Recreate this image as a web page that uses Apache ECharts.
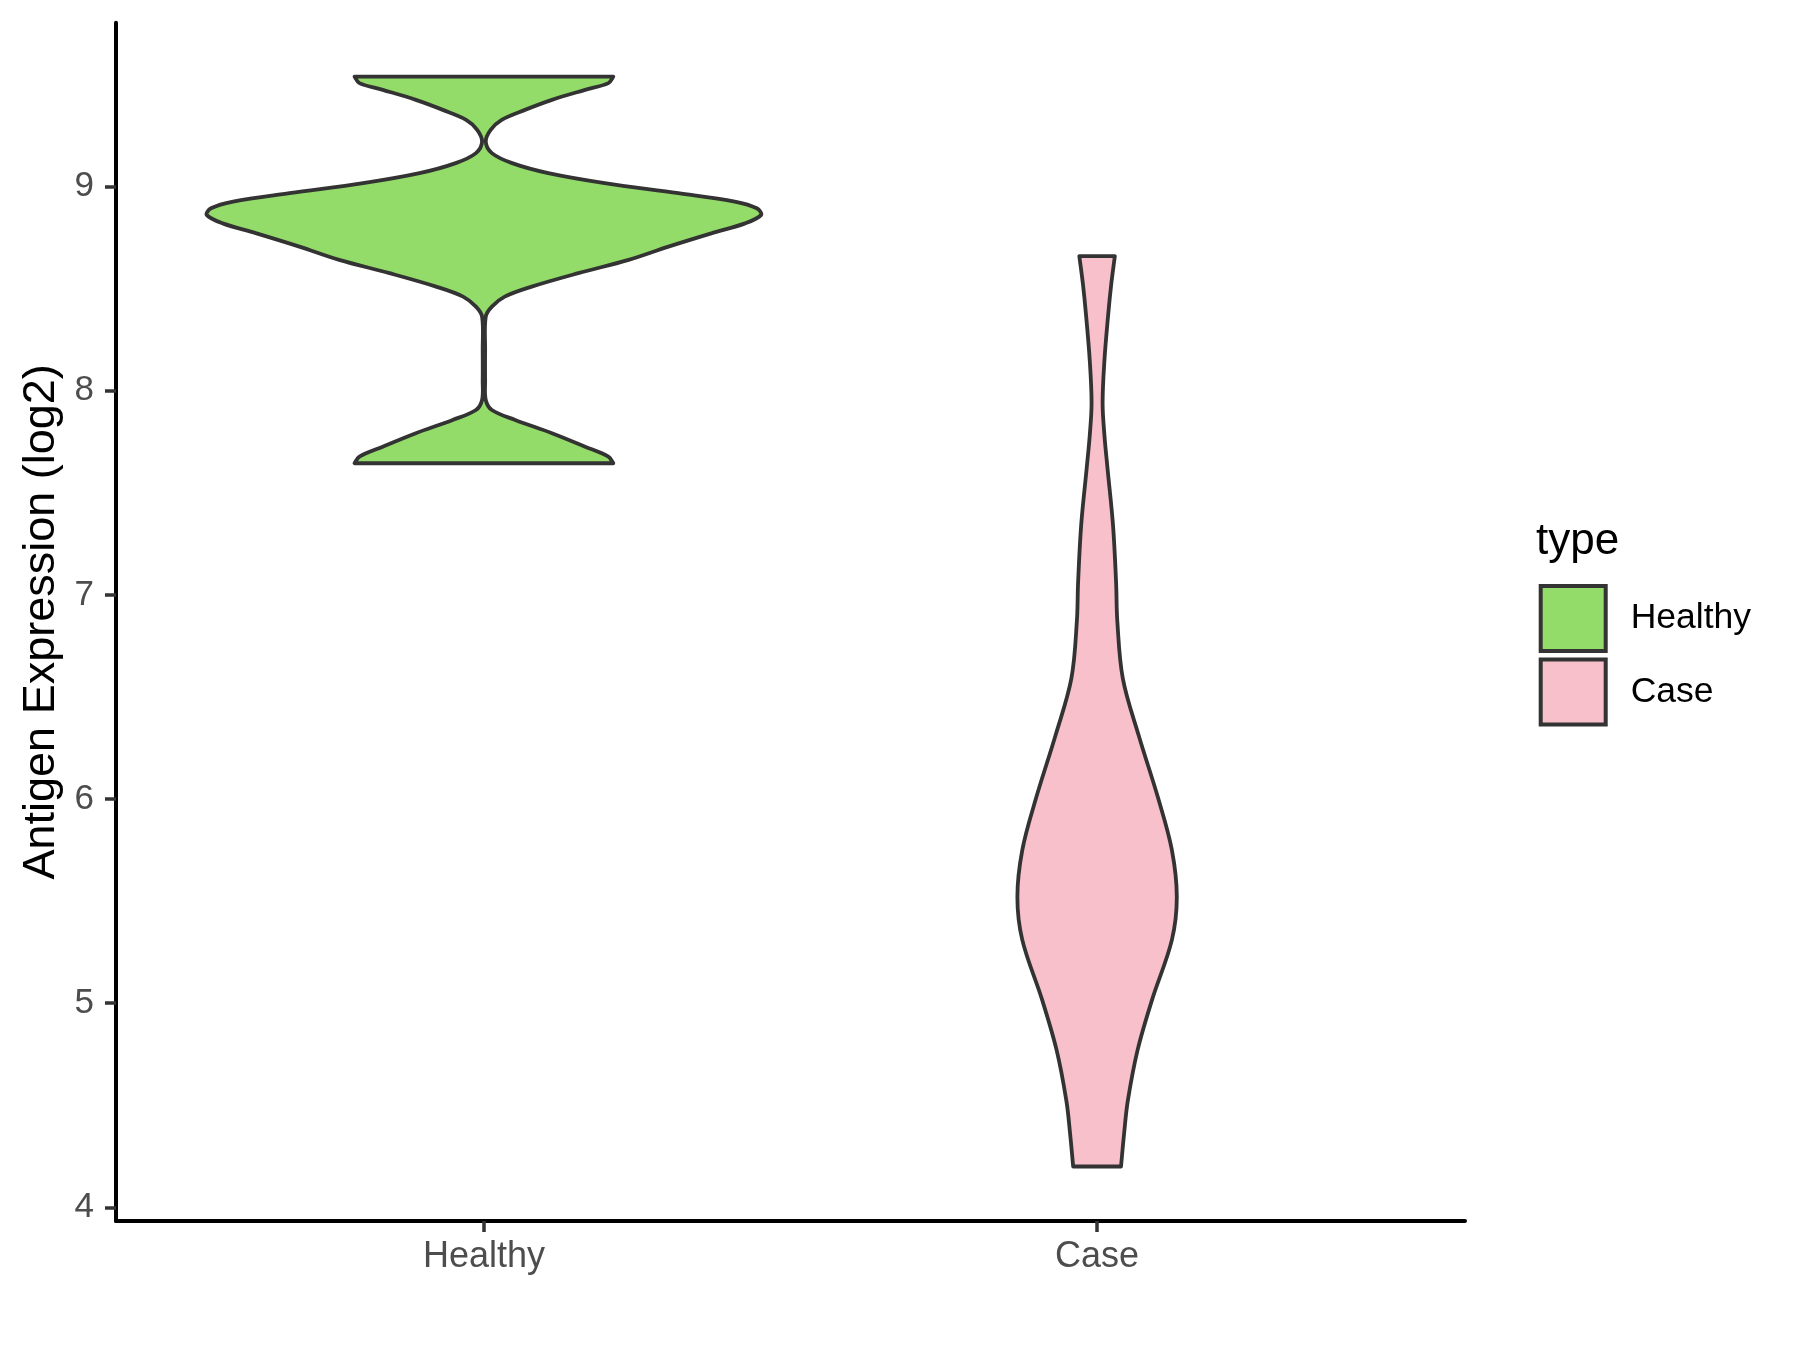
<!DOCTYPE html>
<html>
<head>
<meta charset="utf-8">
<script src="https://cdn.jsdelivr.net/npm/echarts@6/dist/echarts.min.js"></script>
<style>
  html, body { margin: 0; padding: 0; background: #ffffff; }
  #chart { width: 1800px; height: 1350px; }
</style>
</head>
<body>
<div id="chart"></div>
<script>
// ---- Data ----
const categories = ['Healthy', 'Case'];
const yTicks = [4, 5, 6, 7, 8, 9];

// Healthy violin: y values (top -> bottom) and half-widths (x category units)
const healthyY = [9.539, 9.507, 9.474, 9.425, 9.376, 9.327, 9.278, 9.22, 9.164, 9.115, 9.066, 9.017, 8.968, 8.927, 8.894, 8.861, 8.82, 8.772, 8.706, 8.641, 8.576, 8.51, 8.461, 8.412, 8.363, 8.2, 8.05, 7.955, 7.906, 7.857, 7.792, 7.726, 7.677, 7.645];
const healthyHalfWidth = [0.211, 0.203, 0.165, 0.111, 0.067, 0.029, 0.011, 0.003, 0.013, 0.046, 0.105, 0.197, 0.317, 0.409, 0.445, 0.452, 0.426, 0.372, 0.301, 0.236, 0.154, 0.078, 0.034, 0.013, 0.003, 0.002, 0.002, 0.003, 0.013, 0.051, 0.111, 0.165, 0.203, 0.211];

// Case violin
const caseY = [8.66, 8.52, 8.37, 8.15, 7.94, 7.78, 7.62, 7.34, 7.06, 6.87, 6.59, 6.31, 6.0, 5.75, 5.52, 5.31, 5.02, 4.77, 4.52, 4.36, 4.2];
const caseHalfWidth = [0.029, 0.023, 0.018, 0.012, 0.009, 0.012, 0.017, 0.026, 0.031, 0.033, 0.042, 0.068, 0.1, 0.122, 0.13, 0.122, 0.09, 0.066, 0.05, 0.044, 0.039];

const fills = ['#93DC6A', '#F7C0CB'];
const outline = '#333333';

const FONT = '"Liberation Sans", Arial, Helvetica, sans-serif';

function makeRender(ys, ws) {
  return function (params, api) {
    const c = api.value(0);
    const left = [];
    const right = [];
    for (let i = 0; i < ys.length; i++) {
      left.push(api.coord([c - ws[i], ys[i]]));
      right.push(api.coord([c + ws[i], ys[i]]));
    }
    const pts = [];
    // duplicate corner points to keep flat ends crisp under smoothing
    pts.push(left[0]);
    for (let i = 0; i < left.length; i++) pts.push(left[i]);
    pts.push(left[left.length - 1]);
    pts.push(right[right.length - 1]);
    for (let i = right.length - 1; i >= 0; i--) pts.push(right[i]);
    pts.push(right[0]);
    return {
      type: 'polygon',
      shape: { points: pts, smooth: 0.35 },
      style: api.style({ fill: api.visual('color'), stroke: outline, lineWidth: 3.8, lineJoin: 'round' })
    };
  };
}

const chart = echarts.init(document.getElementById('chart'), null, { renderer: 'canvas' });

const option = {
  backgroundColor: '#ffffff',
  animation: false,
  grid: { left: 116, right: 335, top: 22.7, bottom: 129 },
  xAxis: {
    type: 'value',
    min: 0.4,
    max: 2.6,
    splitLine: { show: false },
    axisLine: { show: true, onZero: false, lineStyle: { color: '#000000', width: 4 } },
    axisTick: { show: true, length: 11, customValues: [1, 2], lineStyle: { color: '#333333', width: 3.5 } },
    axisLabel: {
      customValues: [1, 2],
      formatter: function (v) { return categories[Math.round(v) - 1] || ''; },
      color: '#4D4D4D', fontSize: 36, fontFamily: FONT, margin: 18
    }
  },
  yAxis: {
    type: 'value',
    min: 3.933,
    max: 9.803,
    name: 'Antigen Expression (log2)',
    nameLocation: 'middle',
    nameGap: 52,
    nameTextStyle: { color: '#000000', fontSize: 45, fontFamily: FONT },
    splitLine: { show: false },
    axisLine: { show: true, onZero: false, lineStyle: { color: '#000000', width: 4 } },
    axisTick: { show: true, length: 11, customValues: yTicks, lineStyle: { color: '#333333', width: 3.5 } },
    axisLabel: {
      customValues: yTicks,
      color: '#4D4D4D', fontSize: 35, fontFamily: FONT, margin: 22
    }
  },
  legend: {
    orient: 'vertical',
    left: 1538.7,
    top: 584,
    padding: 0,
    itemWidth: 65,
    itemHeight: 65,
    itemGap: 4.5,
    icon: 'rect',
    data: categories,
    textStyle: { color: '#000000', fontSize: 35.5, fontFamily: FONT, padding: [0, 0, 0, 20] },
    itemStyle: { borderColor: outline, borderWidth: 4 }
  },
  graphic: [{
    type: 'text',
    left: 1536,
    top: 520,
    style: { text: 'type', fill: '#000000', fontSize: 44, fontFamily: FONT }
  }],
  series: [
    {
      type: 'custom',
      name: categories[0],
      coordinateSystem: 'cartesian2d',
      renderItem: makeRender(healthyY, healthyHalfWidth),
      itemStyle: { color: fills[0], borderColor: outline, borderWidth: 4 },
      encode: { x: 0, y: 1 },
      data: [[1, healthyY[0]]],
      clip: false
    },
    {
      type: 'custom',
      name: categories[1],
      coordinateSystem: 'cartesian2d',
      renderItem: makeRender(caseY, caseHalfWidth),
      itemStyle: { color: fills[1], borderColor: outline, borderWidth: 4 },
      encode: { x: 0, y: 1 },
      data: [[2, caseY[0]]],
      clip: false
    }
  ]
};

chart.setOption(option);
</script>
</body>
</html>
